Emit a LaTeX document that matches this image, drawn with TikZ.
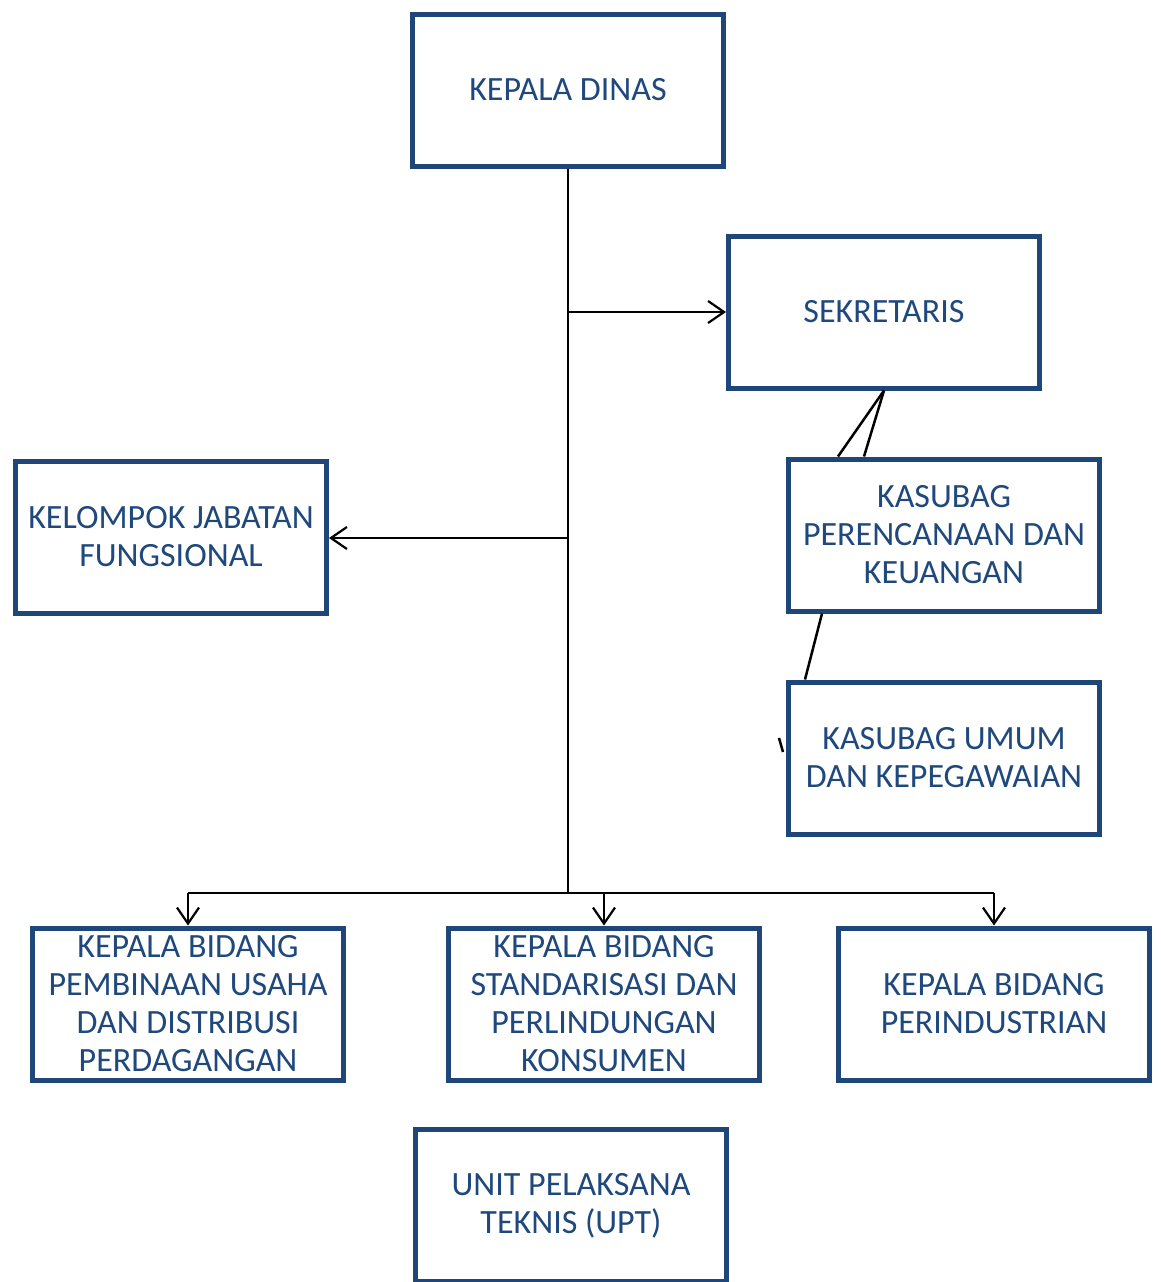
\documentclass[tikz,border=0pt]{standalone}
\usepackage{fontspec}
\setmainfont{Carlito}
\usetikzlibrary{arrows.meta,calc}
\definecolor{boxblue}{RGB}{31,70,120}
\definecolor{textblue}{RGB}{31,73,125}
\tikzset{
  unit/.style={draw=boxblue, line width=2.5pt, fill=white, minimum width=155.5pt,
    minimum height=76pt, inner sep=0pt, align=center, text=textblue,
    font=\fontsize{17pt}{19pt}\selectfont},
  link/.style={draw=black, line width=1.25pt},
  arr/.style={link, -{Straight Barb[length=8pt,width=11pt,line width=1.1pt]}}
}
\begin{document}
\begin{tikzpicture}[x=0.5pt,y=-0.5pt]
\useasboundingbox (0,0) rectangle (1161,1282);

% organisation units
\node[unit] (kd)  at (568,90)    {KEPALA DINAS};
\node[unit] (sek) at (884,312)   {SEKRETARIS};
\node[unit] (kjf) at (171,537)   {KELOMPOK JABATAN\\FUNGSIONAL};
\node[unit] (kpk) at (944,535)   {KASUBAG\\PERENCANAAN DAN\\KEUANGAN};
\node[unit] (kuk) at (944,758)   {KASUBAG UMUM\\DAN KEPEGAWAIAN};
\node[unit] (kb1) at (188,1004)  {KEPALA BIDANG\\PEMBINAAN USAHA\\DAN DISTRIBUSI\\PERDAGANGAN};
\node[unit] (kb2) at (604,1004)  {KEPALA BIDANG\\STANDARISASI DAN\\PERLINDUNGAN\\KONSUMEN};
\node[unit] (kb3) at (994,1004)  {KEPALA BIDANG\\PERINDUSTRIAN};
\node[unit] (upt) at (571,1205.5){UNIT PELAKSANA\\TEKNIS (UPT)};

% main trunk and branches
\coordinate (bus) at (568,893);
\draw[link] (kd.south) -- (bus);
\draw[arr] (kd.south |- sek.west) -- (sek.west);
\draw[arr] (kd.south |- 0,538) -- (kjf.east |- 0,538);
\draw[link] (kb1.north |- bus) -- (kb3.north |- bus);
\draw[arr] (kb1.north |- bus) -- (kb1.north);
\draw[arr] (kb2.north |- bus) -- (kb2.north);
\draw[arr] (kb3.north |- bus) -- (kb3.north);

% secretariat sub-units
\draw[link] (sek.south) -- ($(kpk.north west)+(52,0)$);
\draw[link] (sek.south) -- ($(kpk.north west)+(78,0)$);
\draw[link] ($(kpk.south west)+(36,0)$) -- ($(kuk.north west)+(19,0)$);
\draw[link] ($(kuk.west)+(-7,-20)$) -- ($(kuk.west)+(-3,-6)$);
\end{tikzpicture}
\end{document}
